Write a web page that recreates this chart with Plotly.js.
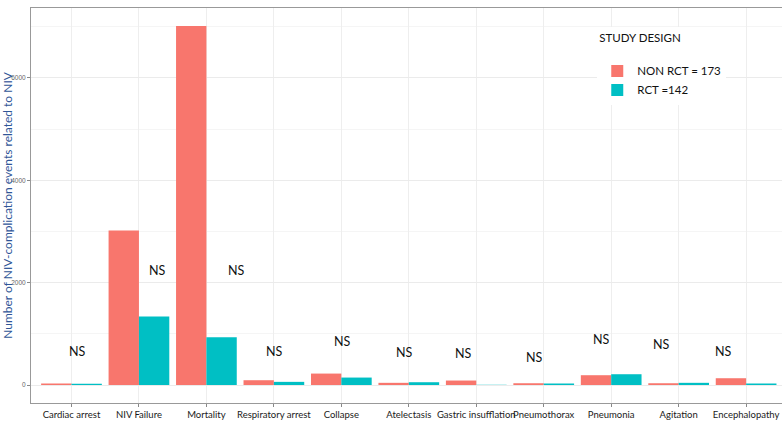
<!DOCTYPE html>
<html>
<head>
<meta charset="utf-8">
<script src="https://cdn.plot.ly/plotly-3.0.1.min.js"></script>
<style>html,body{margin:0;padding:0;background:#fff;}#chart{width:782px;height:428px;}</style>
</head>
<body>
<div id="chart"></div>
<script>
const categories = ["Cardiac arrest","NIV Failure","Mortality","Respiratory arrest","Collapse","Atelectasis","Gastric insufflation","Pneumothorax","Pneumonia","Agitation","Encephalopathy"];
const nonRct = [30, 3020, 7015, 94, 224, 43, 88, 35, 192, 35, 133];
const rct = [25, 1337, 933, 62, 146, 55, 5, 30, 211, 43, 30];
const seriesNames = ["NON RCT = 173", "RCT =142"];
const seriesColors = ["#F8766D", "#00BFC4"];
const nsLabels = ["NS","NS","NS","NS","NS","NS","NS","NS","NS","NS","NS"];
const nsOffset = [0.09, 0.28, 0.44, 0.01, 0.02, -0.06, -0.19, -0.13, -0.14, -0.26, -0.33];
const nsY = [652, 2237, 2237, 652, 847, 626, 607, 534, 894, 797, 652];
const yTicks = [0, 2000, 4000, 6000];

const traces = [
  {type:"bar", name:seriesNames[0], x:categories, y:nonRct, marker:{color:seriesColors[0]}},
  {type:"bar", name:seriesNames[1], x:categories, y:rct, marker:{color:seriesColors[1]}}
];

const annotations = nsLabels.map((t,i)=>({
  x: i + nsOffset[i], y: nsY[i], xref:"x", yref:"y", text:t, showarrow:false,
  font:{family:"Lato", size:12.5, color:"#111"}
}));

const layout = {
  width:782, height:428,
  margin:{l:31, r:0, t:8, b:25},
  paper_bgcolor:"#fff", plot_bgcolor:"#fff",
  font:{family:"Lato", color:"#111"},
  barmode:"group", bargap:0.1, bargroupgap:0,
  showlegend:true,
  legend:{x:0.754, y:0.953, xanchor:"left", yanchor:"top", bgcolor:"#fff",
    title:{text:"STUDY DESIGN<br>&nbsp;", font:{size:11.5, color:"#111"}},
    font:{size:11.5, color:"#111"}, tracegroupgap:2},
  xaxis:{type:"category", range:[-0.6, 10.532], showline:true, mirror:true, linecolor:"#999", linewidth:1,
    ticks:"outside", ticklen:3, tickcolor:"#888", showgrid:true, gridcolor:"#EEEEEE", gridwidth:1,
    tickangle:0, tickfont:{family:"Lato", size:9.5, color:"#1a1a1a"}, fixedrange:true},
  yaxis:{range:[-351, 7366], tickvals:yTicks, ticktext:yTicks.map(String), showline:true, mirror:false,
    linecolor:"#999", linewidth:1, ticks:"outside", ticklen:3, tickcolor:"#888",
    showgrid:true, gridcolor:"#EBEBEB", zeroline:false,
    minor:{tickvals:[1000,3000,5000,7000], showgrid:true, gridcolor:"#F5F5F5", ticks:""},
    tickfont:{family:"Liberation Sans", size:6.5, color:"#666"},
    title:{text:"Number of NIV-complication events related to NIV", standoff:2,
      font:{family:"Lato", size:12, color:"#2F5597"}}},
  annotations: annotations
};

Plotly.newPlot("chart", traces, layout, {displayModeBar:false, staticPlot:true});
</script>
</body>
</html>
